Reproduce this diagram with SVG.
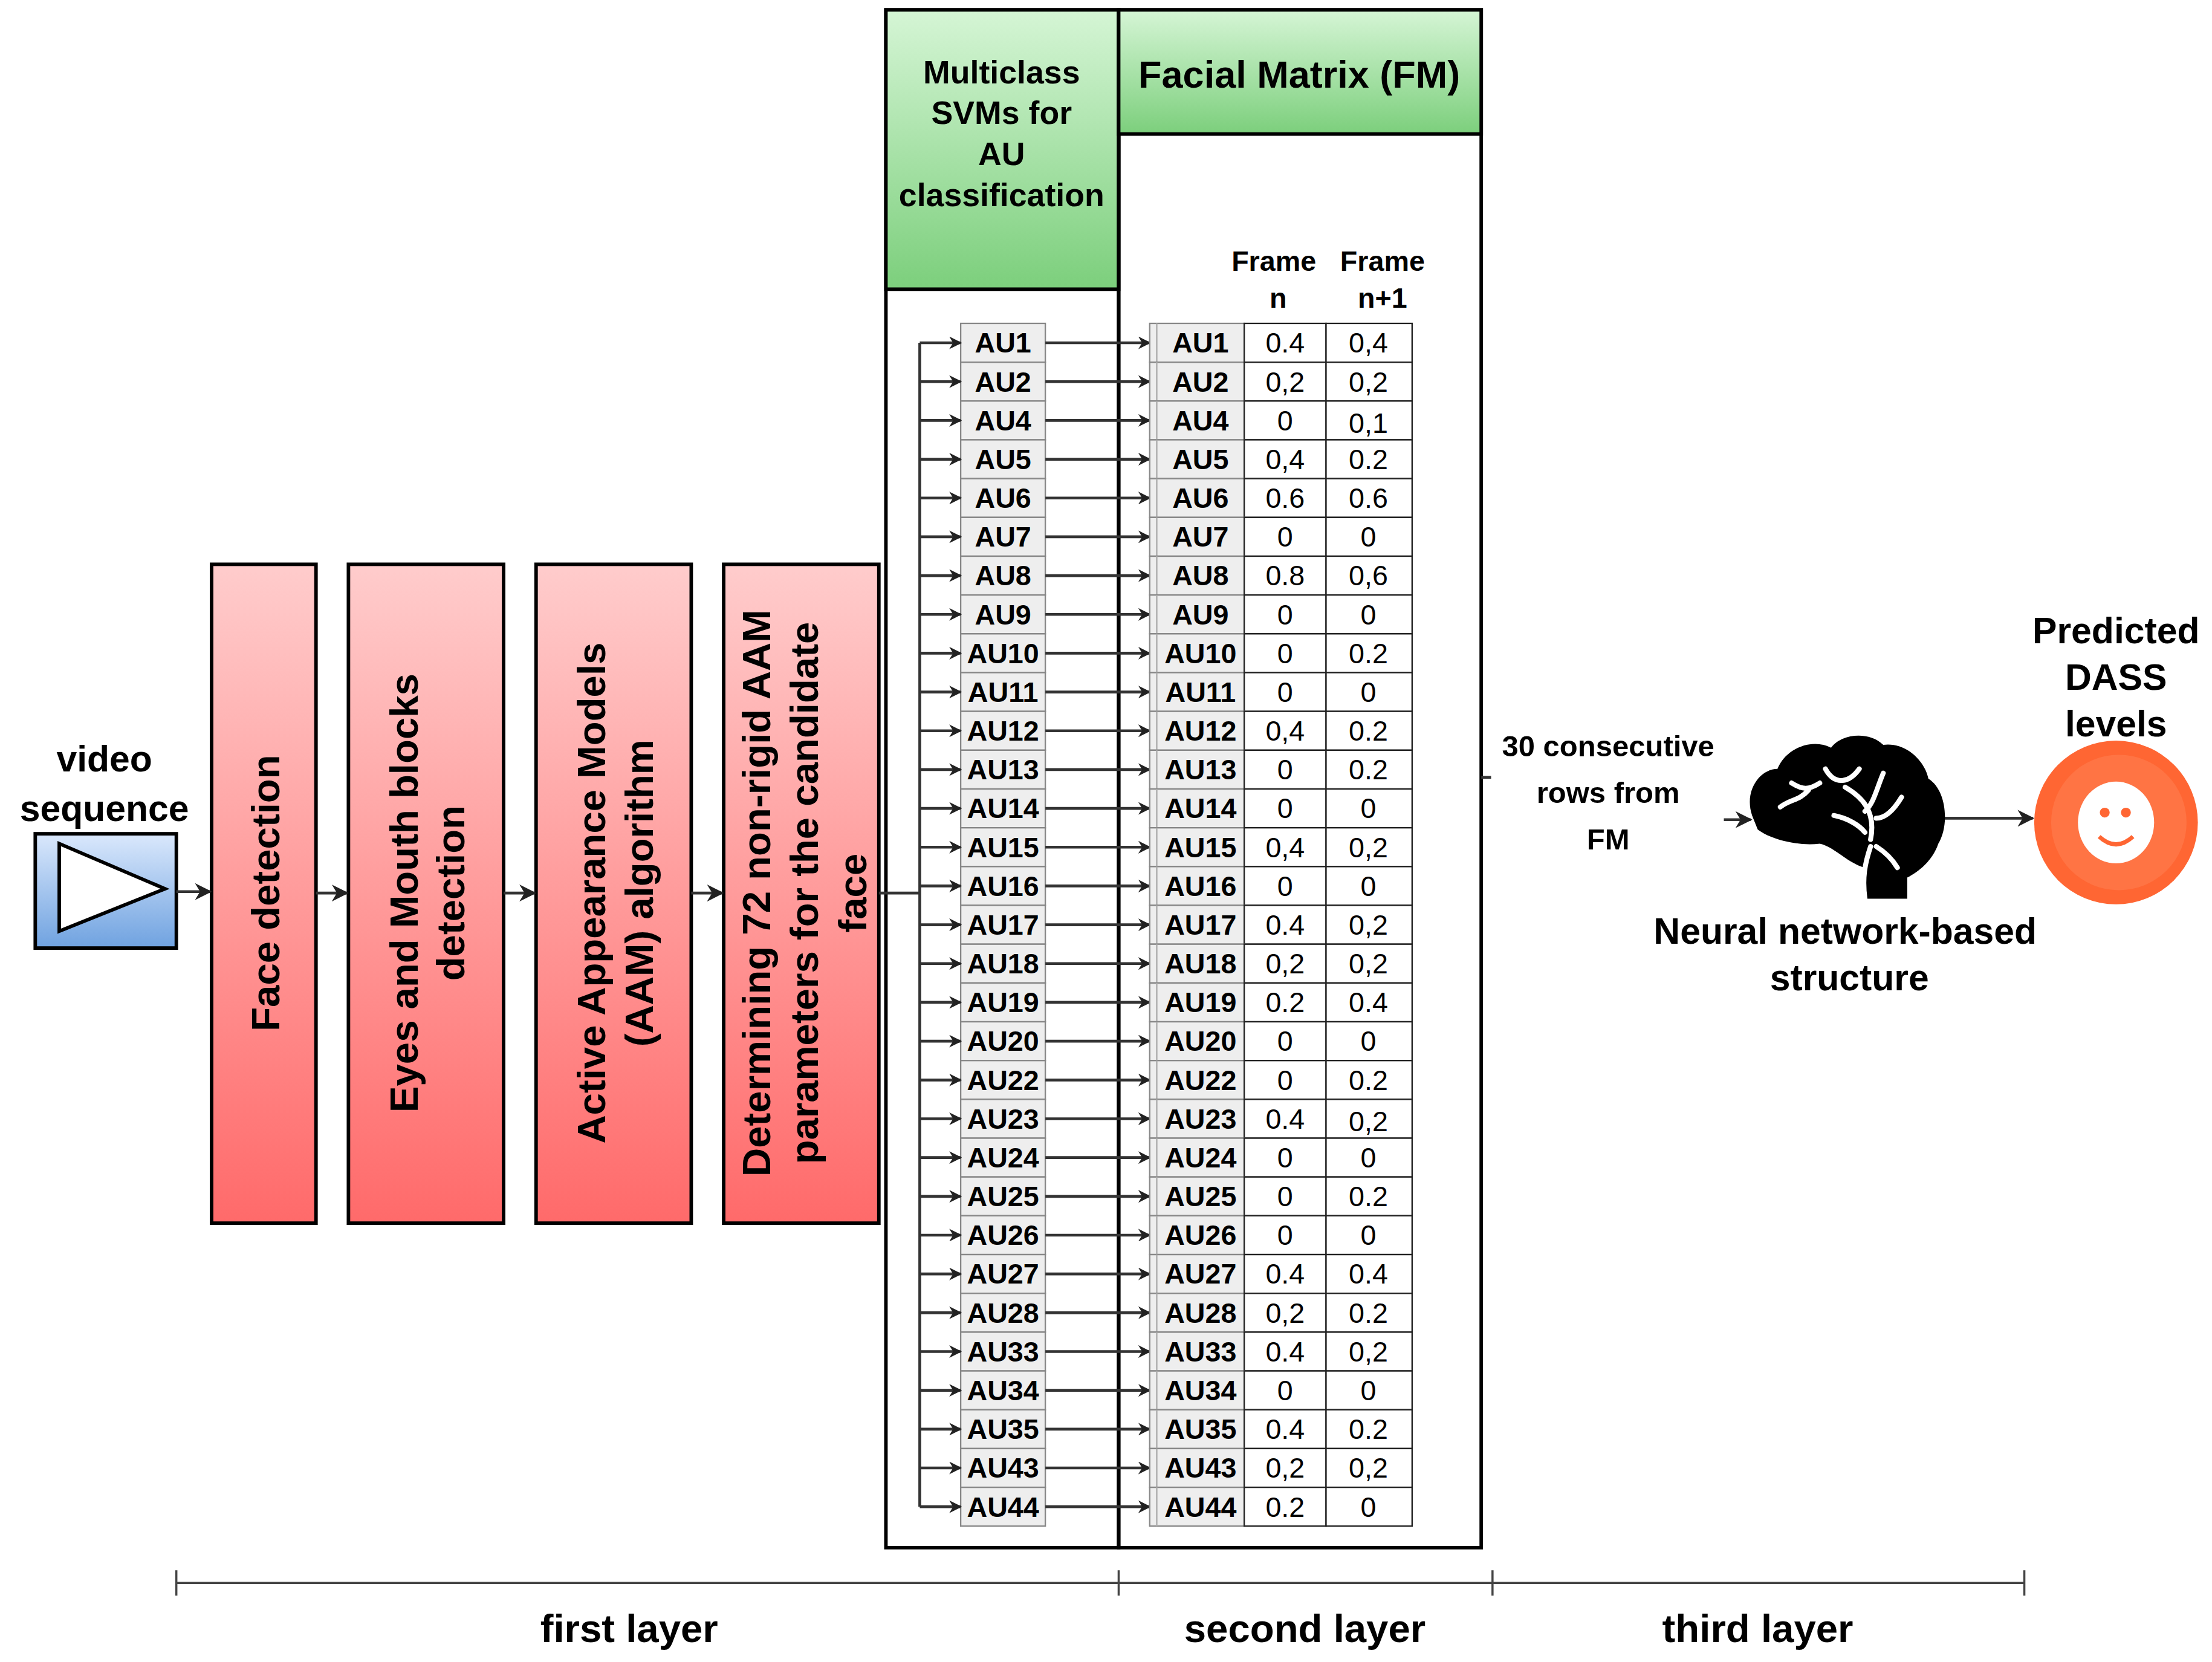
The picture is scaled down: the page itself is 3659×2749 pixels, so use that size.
<svg xmlns="http://www.w3.org/2000/svg" width="3659" height="2749" viewBox="0 0 3659 2749">
<defs>
<linearGradient id="red" x1="0" y1="0" x2="0" y2="1"><stop offset="0" stop-color="#ffcccc"/><stop offset="1" stop-color="#ff6a6a"/></linearGradient>
<linearGradient id="green" x1="0" y1="0" x2="0" y2="1"><stop offset="0" stop-color="#d5f5d5"/><stop offset="1" stop-color="#7ccf7c"/></linearGradient>
<linearGradient id="blue" x1="0" y1="0" x2="0" y2="1"><stop offset="0" stop-color="#dae8fc"/><stop offset="1" stop-color="#6fa2e0"/></linearGradient>
<marker id="ah" viewBox="0 0 10 10" refX="9" refY="5" markerWidth="9" markerHeight="9" orient="auto" markerUnits="userSpaceOnUse"><path d="M0,0 L10,5 L0,10 L3,5 z" fill="#222"/></marker>
<marker id="ahb" viewBox="0 0 10 10" refX="9" refY="5" markerWidth="12" markerHeight="12" orient="auto" markerUnits="userSpaceOnUse"><path d="M0,0 L10,5 L0,10 L3,5 z" fill="#222"/></marker>
</defs>
<style>
text{font-family:"Liberation Sans",Arial,sans-serif;fill:#000;text-anchor:middle}
.b{font-weight:bold}
.red{fill:url(#red);stroke:#000;stroke-width:2.5}
.rt{font-weight:bold;font-size:28px}
.au{fill:#eeeeee;stroke:#888;stroke-width:1}
.cell{fill:#fff;stroke:#222;stroke-width:1}
.ln{stroke:#333;stroke-width:2;fill:none}
.aul{font-size:20px;font-weight:bold}
.val{font-size:20px}
</style>
<rect width="3659" height="2749" fill="#fff"/>
<g transform="scale(2.3335)">
<g id="video">
<text class="b" x="74" y="547" font-size="26">video</text>
<text class="b" x="74" y="582" font-size="26">sequence</text>
<rect x="25" y="591" width="100" height="81" fill="url(#blue)" stroke="#000" stroke-width="2.5"/>
<polygon points="42,598 117,630 42,660" fill="#fff" stroke="#000" stroke-width="2.5"/>
</g>
<g id="face"><rect class="red" x="150" y="400" width="74" height="467"/>
<text class="rt" transform="translate(198,633) rotate(-90)">Face detection</text></g>
<g id="eyes"><rect class="red" x="247" y="400" width="110" height="467"/>
<text class="rt" transform="translate(296,633) rotate(-90)">Eyes and Mouth blocks</text>
<text class="rt" transform="translate(329,633) rotate(-90)">detection</text></g>
<g id="aam"><rect class="red" x="380" y="400" width="110" height="467"/>
<text class="rt" transform="translate(429,633) rotate(-90)">Active Appearance Models</text>
<text class="rt" transform="translate(463,633) rotate(-90)">(AAM) algorithm</text></g>
<g id="determ"><rect class="red" x="513" y="400" width="110" height="467"/>
<text class="rt" transform="translate(546,633) rotate(-90)">Determining 72 non-rigid AAM</text>
<text class="rt" transform="translate(580,633) rotate(-90)">parameters for the candidate</text>
<text class="rt" transform="translate(614,633) rotate(-90)">face</text></g>
<g id="svm">
<rect x="628" y="7" width="165" height="1090" fill="#fff" stroke="#000" stroke-width="2.5"/>
<rect x="628" y="7" width="165" height="198" fill="url(#green)" stroke="#000" stroke-width="2.5"/>
<text class="b" font-size="23" x="710" y="59">Multiclass</text>
<text class="b" font-size="23" x="710" y="88">SVMs for</text>
<text class="b" font-size="23" x="710" y="117">AU</text>
<text class="b" font-size="23" x="710" y="146">classification</text>
</g>
<g id="fm">
<rect x="793" y="7" width="257" height="1090" fill="none" stroke="#000" stroke-width="2.5"/>
<rect x="793" y="7" width="257" height="88" fill="url(#green)" stroke="#000" stroke-width="2.5"/>
<text class="b" font-size="27" x="921" y="62">Facial Matrix (FM)</text>
<text class="b" font-size="20" x="903" y="192">Frame</text>
<text class="b" font-size="20" x="980" y="192">Frame</text>
<text class="b" font-size="20" x="906" y="218">n</text>
<text class="b" font-size="20" x="980" y="218">n+1</text>
</g>
<g id="connectors">
<path class="ln" d="M125,632 H149" marker-end="url(#ahb)"/>
<path class="ln" d="M224,633 H246" marker-end="url(#ahb)"/>
<path class="ln" d="M357,633 H379" marker-end="url(#ahb)"/>
<path class="ln" d="M490,633 H512" marker-end="url(#ahb)"/>
<path class="ln" d="M623,633 H652"/>
<path class="ln" d="M652,243 V1068"/>
<path class="ln" d="M1050,551 H1057"/>
<path class="ln" d="M1222,581 H1241" marker-end="url(#ahb)"/>
<path class="ln" d="M1378,580 H1441" marker-end="url(#ahb)"/>
</g>
<g id="table">
<g class="row" transform="translate(0,243)"><rect class="au" x="681" y="-13.75" width="60" height="27.5"/><text class="aul" x="711" y="7">AU1</text><path class="ln" d="M652,0 H681" marker-end="url(#ah)"/><path class="ln" d="M741,0 H815" marker-end="url(#ah)"/><rect class="au" x="815" y="-13.75" width="67" height="27.5"/><path d="M820,-13.75 V13.75" stroke="#aaa"/><rect class="cell" x="882" y="-13.75" width="58" height="27.5"/><rect class="cell" x="940" y="-13.75" width="61" height="27.5"/><text class="aul" x="851" y="7">AU1</text><text class="val" x="911" y="7">0.4</text><text class="val" x="970" y="7">0,4</text></g>
<g class="row" transform="translate(0,270.5)"><rect class="au" x="681" y="-13.75" width="60" height="27.5"/><text class="aul" x="711" y="7">AU2</text><path class="ln" d="M652,0 H681" marker-end="url(#ah)"/><path class="ln" d="M741,0 H815" marker-end="url(#ah)"/><rect class="au" x="815" y="-13.75" width="67" height="27.5"/><path d="M820,-13.75 V13.75" stroke="#aaa"/><rect class="cell" x="882" y="-13.75" width="58" height="27.5"/><rect class="cell" x="940" y="-13.75" width="61" height="27.5"/><text class="aul" x="851" y="7">AU2</text><text class="val" x="911" y="7">0,2</text><text class="val" x="970" y="7">0,2</text></g>
<g class="row" transform="translate(0,298)"><rect class="au" x="681" y="-13.75" width="60" height="27.5"/><text class="aul" x="711" y="7">AU4</text><path class="ln" d="M652,0 H681" marker-end="url(#ah)"/><path class="ln" d="M741,0 H815" marker-end="url(#ah)"/><rect class="au" x="815" y="-13.75" width="67" height="27.5"/><path d="M820,-13.75 V13.75" stroke="#aaa"/><rect class="cell" x="882" y="-13.75" width="58" height="27.5"/><rect class="cell" x="940" y="-13.75" width="61" height="27.5"/><text class="aul" x="851" y="7">AU4</text><text class="val" x="911" y="7">0</text><text class="val" x="970" y="9">0,1</text></g>
<g class="row" transform="translate(0,325.5)"><rect class="au" x="681" y="-13.75" width="60" height="27.5"/><text class="aul" x="711" y="7">AU5</text><path class="ln" d="M652,0 H681" marker-end="url(#ah)"/><path class="ln" d="M741,0 H815" marker-end="url(#ah)"/><rect class="au" x="815" y="-13.75" width="67" height="27.5"/><path d="M820,-13.75 V13.75" stroke="#aaa"/><rect class="cell" x="882" y="-13.75" width="58" height="27.5"/><rect class="cell" x="940" y="-13.75" width="61" height="27.5"/><text class="aul" x="851" y="7">AU5</text><text class="val" x="911" y="7">0,4</text><text class="val" x="970" y="7">0.2</text></g>
<g class="row" transform="translate(0,353)"><rect class="au" x="681" y="-13.75" width="60" height="27.5"/><text class="aul" x="711" y="7">AU6</text><path class="ln" d="M652,0 H681" marker-end="url(#ah)"/><path class="ln" d="M741,0 H815" marker-end="url(#ah)"/><rect class="au" x="815" y="-13.75" width="67" height="27.5"/><path d="M820,-13.75 V13.75" stroke="#aaa"/><rect class="cell" x="882" y="-13.75" width="58" height="27.5"/><rect class="cell" x="940" y="-13.75" width="61" height="27.5"/><text class="aul" x="851" y="7">AU6</text><text class="val" x="911" y="7">0.6</text><text class="val" x="970" y="7">0.6</text></g>
<g class="row" transform="translate(0,380.5)"><rect class="au" x="681" y="-13.75" width="60" height="27.5"/><text class="aul" x="711" y="7">AU7</text><path class="ln" d="M652,0 H681" marker-end="url(#ah)"/><path class="ln" d="M741,0 H815" marker-end="url(#ah)"/><rect class="au" x="815" y="-13.75" width="67" height="27.5"/><path d="M820,-13.75 V13.75" stroke="#aaa"/><rect class="cell" x="882" y="-13.75" width="58" height="27.5"/><rect class="cell" x="940" y="-13.75" width="61" height="27.5"/><text class="aul" x="851" y="7">AU7</text><text class="val" x="911" y="7">0</text><text class="val" x="970" y="7">0</text></g>
<g class="row" transform="translate(0,408)"><rect class="au" x="681" y="-13.75" width="60" height="27.5"/><text class="aul" x="711" y="7">AU8</text><path class="ln" d="M652,0 H681" marker-end="url(#ah)"/><path class="ln" d="M741,0 H815" marker-end="url(#ah)"/><rect class="au" x="815" y="-13.75" width="67" height="27.5"/><path d="M820,-13.75 V13.75" stroke="#aaa"/><rect class="cell" x="882" y="-13.75" width="58" height="27.5"/><rect class="cell" x="940" y="-13.75" width="61" height="27.5"/><text class="aul" x="851" y="7">AU8</text><text class="val" x="911" y="7">0.8</text><text class="val" x="970" y="7">0,6</text></g>
<g class="row" transform="translate(0,435.5)"><rect class="au" x="681" y="-13.75" width="60" height="27.5"/><text class="aul" x="711" y="7">AU9</text><path class="ln" d="M652,0 H681" marker-end="url(#ah)"/><path class="ln" d="M741,0 H815" marker-end="url(#ah)"/><rect class="au" x="815" y="-13.75" width="67" height="27.5"/><path d="M820,-13.75 V13.75" stroke="#aaa"/><rect class="cell" x="882" y="-13.75" width="58" height="27.5"/><rect class="cell" x="940" y="-13.75" width="61" height="27.5"/><text class="aul" x="851" y="7">AU9</text><text class="val" x="911" y="7">0</text><text class="val" x="970" y="7">0</text></g>
<g class="row" transform="translate(0,463)"><rect class="au" x="681" y="-13.75" width="60" height="27.5"/><text class="aul" x="711" y="7">AU10</text><path class="ln" d="M652,0 H681" marker-end="url(#ah)"/><path class="ln" d="M741,0 H815" marker-end="url(#ah)"/><rect class="au" x="815" y="-13.75" width="67" height="27.5"/><path d="M820,-13.75 V13.75" stroke="#aaa"/><rect class="cell" x="882" y="-13.75" width="58" height="27.5"/><rect class="cell" x="940" y="-13.75" width="61" height="27.5"/><text class="aul" x="851" y="7">AU10</text><text class="val" x="911" y="7">0</text><text class="val" x="970" y="7">0.2</text></g>
<g class="row" transform="translate(0,490.5)"><rect class="au" x="681" y="-13.75" width="60" height="27.5"/><text class="aul" x="711" y="7">AU11</text><path class="ln" d="M652,0 H681" marker-end="url(#ah)"/><path class="ln" d="M741,0 H815" marker-end="url(#ah)"/><rect class="au" x="815" y="-13.75" width="67" height="27.5"/><path d="M820,-13.75 V13.75" stroke="#aaa"/><rect class="cell" x="882" y="-13.75" width="58" height="27.5"/><rect class="cell" x="940" y="-13.75" width="61" height="27.5"/><text class="aul" x="851" y="7">AU11</text><text class="val" x="911" y="7">0</text><text class="val" x="970" y="7">0</text></g>
<g class="row" transform="translate(0,518)"><rect class="au" x="681" y="-13.75" width="60" height="27.5"/><text class="aul" x="711" y="7">AU12</text><path class="ln" d="M652,0 H681" marker-end="url(#ah)"/><path class="ln" d="M741,0 H815" marker-end="url(#ah)"/><rect class="au" x="815" y="-13.75" width="67" height="27.5"/><path d="M820,-13.75 V13.75" stroke="#aaa"/><rect class="cell" x="882" y="-13.75" width="58" height="27.5"/><rect class="cell" x="940" y="-13.75" width="61" height="27.5"/><text class="aul" x="851" y="7">AU12</text><text class="val" x="911" y="7">0,4</text><text class="val" x="970" y="7">0.2</text></g>
<g class="row" transform="translate(0,545.5)"><rect class="au" x="681" y="-13.75" width="60" height="27.5"/><text class="aul" x="711" y="7">AU13</text><path class="ln" d="M652,0 H681" marker-end="url(#ah)"/><path class="ln" d="M741,0 H815" marker-end="url(#ah)"/><rect class="au" x="815" y="-13.75" width="67" height="27.5"/><path d="M820,-13.75 V13.75" stroke="#aaa"/><rect class="cell" x="882" y="-13.75" width="58" height="27.5"/><rect class="cell" x="940" y="-13.75" width="61" height="27.5"/><text class="aul" x="851" y="7">AU13</text><text class="val" x="911" y="7">0</text><text class="val" x="970" y="7">0.2</text></g>
<g class="row" transform="translate(0,573)"><rect class="au" x="681" y="-13.75" width="60" height="27.5"/><text class="aul" x="711" y="7">AU14</text><path class="ln" d="M652,0 H681" marker-end="url(#ah)"/><path class="ln" d="M741,0 H815" marker-end="url(#ah)"/><rect class="au" x="815" y="-13.75" width="67" height="27.5"/><path d="M820,-13.75 V13.75" stroke="#aaa"/><rect class="cell" x="882" y="-13.75" width="58" height="27.5"/><rect class="cell" x="940" y="-13.75" width="61" height="27.5"/><text class="aul" x="851" y="7">AU14</text><text class="val" x="911" y="7">0</text><text class="val" x="970" y="7">0</text></g>
<g class="row" transform="translate(0,600.5)"><rect class="au" x="681" y="-13.75" width="60" height="27.5"/><text class="aul" x="711" y="7">AU15</text><path class="ln" d="M652,0 H681" marker-end="url(#ah)"/><path class="ln" d="M741,0 H815" marker-end="url(#ah)"/><rect class="au" x="815" y="-13.75" width="67" height="27.5"/><path d="M820,-13.75 V13.75" stroke="#aaa"/><rect class="cell" x="882" y="-13.75" width="58" height="27.5"/><rect class="cell" x="940" y="-13.75" width="61" height="27.5"/><text class="aul" x="851" y="7">AU15</text><text class="val" x="911" y="7">0,4</text><text class="val" x="970" y="7">0,2</text></g>
<g class="row" transform="translate(0,628)"><rect class="au" x="681" y="-13.75" width="60" height="27.5"/><text class="aul" x="711" y="7">AU16</text><path class="ln" d="M652,0 H681" marker-end="url(#ah)"/><path class="ln" d="M741,0 H815" marker-end="url(#ah)"/><rect class="au" x="815" y="-13.75" width="67" height="27.5"/><path d="M820,-13.75 V13.75" stroke="#aaa"/><rect class="cell" x="882" y="-13.75" width="58" height="27.5"/><rect class="cell" x="940" y="-13.75" width="61" height="27.5"/><text class="aul" x="851" y="7">AU16</text><text class="val" x="911" y="7">0</text><text class="val" x="970" y="7">0</text></g>
<g class="row" transform="translate(0,655.5)"><rect class="au" x="681" y="-13.75" width="60" height="27.5"/><text class="aul" x="711" y="7">AU17</text><path class="ln" d="M652,0 H681" marker-end="url(#ah)"/><path class="ln" d="M741,0 H815" marker-end="url(#ah)"/><rect class="au" x="815" y="-13.75" width="67" height="27.5"/><path d="M820,-13.75 V13.75" stroke="#aaa"/><rect class="cell" x="882" y="-13.75" width="58" height="27.5"/><rect class="cell" x="940" y="-13.75" width="61" height="27.5"/><text class="aul" x="851" y="7">AU17</text><text class="val" x="911" y="7">0.4</text><text class="val" x="970" y="7">0,2</text></g>
<g class="row" transform="translate(0,683)"><rect class="au" x="681" y="-13.75" width="60" height="27.5"/><text class="aul" x="711" y="7">AU18</text><path class="ln" d="M652,0 H681" marker-end="url(#ah)"/><path class="ln" d="M741,0 H815" marker-end="url(#ah)"/><rect class="au" x="815" y="-13.75" width="67" height="27.5"/><path d="M820,-13.75 V13.75" stroke="#aaa"/><rect class="cell" x="882" y="-13.75" width="58" height="27.5"/><rect class="cell" x="940" y="-13.75" width="61" height="27.5"/><text class="aul" x="851" y="7">AU18</text><text class="val" x="911" y="7">0,2</text><text class="val" x="970" y="7">0,2</text></g>
<g class="row" transform="translate(0,710.5)"><rect class="au" x="681" y="-13.75" width="60" height="27.5"/><text class="aul" x="711" y="7">AU19</text><path class="ln" d="M652,0 H681" marker-end="url(#ah)"/><path class="ln" d="M741,0 H815" marker-end="url(#ah)"/><rect class="au" x="815" y="-13.75" width="67" height="27.5"/><path d="M820,-13.75 V13.75" stroke="#aaa"/><rect class="cell" x="882" y="-13.75" width="58" height="27.5"/><rect class="cell" x="940" y="-13.75" width="61" height="27.5"/><text class="aul" x="851" y="7">AU19</text><text class="val" x="911" y="7">0.2</text><text class="val" x="970" y="7">0.4</text></g>
<g class="row" transform="translate(0,738)"><rect class="au" x="681" y="-13.75" width="60" height="27.5"/><text class="aul" x="711" y="7">AU20</text><path class="ln" d="M652,0 H681" marker-end="url(#ah)"/><path class="ln" d="M741,0 H815" marker-end="url(#ah)"/><rect class="au" x="815" y="-13.75" width="67" height="27.5"/><path d="M820,-13.75 V13.75" stroke="#aaa"/><rect class="cell" x="882" y="-13.75" width="58" height="27.5"/><rect class="cell" x="940" y="-13.75" width="61" height="27.5"/><text class="aul" x="851" y="7">AU20</text><text class="val" x="911" y="7">0</text><text class="val" x="970" y="7">0</text></g>
<g class="row" transform="translate(0,765.5)"><rect class="au" x="681" y="-13.75" width="60" height="27.5"/><text class="aul" x="711" y="7">AU22</text><path class="ln" d="M652,0 H681" marker-end="url(#ah)"/><path class="ln" d="M741,0 H815" marker-end="url(#ah)"/><rect class="au" x="815" y="-13.75" width="67" height="27.5"/><path d="M820,-13.75 V13.75" stroke="#aaa"/><rect class="cell" x="882" y="-13.75" width="58" height="27.5"/><rect class="cell" x="940" y="-13.75" width="61" height="27.5"/><text class="aul" x="851" y="7">AU22</text><text class="val" x="911" y="7">0</text><text class="val" x="970" y="7">0.2</text></g>
<g class="row" transform="translate(0,793)"><rect class="au" x="681" y="-13.75" width="60" height="27.5"/><text class="aul" x="711" y="7">AU23</text><path class="ln" d="M652,0 H681" marker-end="url(#ah)"/><path class="ln" d="M741,0 H815" marker-end="url(#ah)"/><rect class="au" x="815" y="-13.75" width="67" height="27.5"/><path d="M820,-13.75 V13.75" stroke="#aaa"/><rect class="cell" x="882" y="-13.75" width="58" height="27.5"/><rect class="cell" x="940" y="-13.75" width="61" height="27.5"/><text class="aul" x="851" y="7">AU23</text><text class="val" x="911" y="7">0.4</text><text class="val" x="970" y="9">0,2</text></g>
<g class="row" transform="translate(0,820.5)"><rect class="au" x="681" y="-13.75" width="60" height="27.5"/><text class="aul" x="711" y="7">AU24</text><path class="ln" d="M652,0 H681" marker-end="url(#ah)"/><path class="ln" d="M741,0 H815" marker-end="url(#ah)"/><rect class="au" x="815" y="-13.75" width="67" height="27.5"/><path d="M820,-13.75 V13.75" stroke="#aaa"/><rect class="cell" x="882" y="-13.75" width="58" height="27.5"/><rect class="cell" x="940" y="-13.75" width="61" height="27.5"/><text class="aul" x="851" y="7">AU24</text><text class="val" x="911" y="7">0</text><text class="val" x="970" y="7">0</text></g>
<g class="row" transform="translate(0,848)"><rect class="au" x="681" y="-13.75" width="60" height="27.5"/><text class="aul" x="711" y="7">AU25</text><path class="ln" d="M652,0 H681" marker-end="url(#ah)"/><path class="ln" d="M741,0 H815" marker-end="url(#ah)"/><rect class="au" x="815" y="-13.75" width="67" height="27.5"/><path d="M820,-13.75 V13.75" stroke="#aaa"/><rect class="cell" x="882" y="-13.75" width="58" height="27.5"/><rect class="cell" x="940" y="-13.75" width="61" height="27.5"/><text class="aul" x="851" y="7">AU25</text><text class="val" x="911" y="7">0</text><text class="val" x="970" y="7">0.2</text></g>
<g class="row" transform="translate(0,875.5)"><rect class="au" x="681" y="-13.75" width="60" height="27.5"/><text class="aul" x="711" y="7">AU26</text><path class="ln" d="M652,0 H681" marker-end="url(#ah)"/><path class="ln" d="M741,0 H815" marker-end="url(#ah)"/><rect class="au" x="815" y="-13.75" width="67" height="27.5"/><path d="M820,-13.75 V13.75" stroke="#aaa"/><rect class="cell" x="882" y="-13.75" width="58" height="27.5"/><rect class="cell" x="940" y="-13.75" width="61" height="27.5"/><text class="aul" x="851" y="7">AU26</text><text class="val" x="911" y="7">0</text><text class="val" x="970" y="7">0</text></g>
<g class="row" transform="translate(0,903)"><rect class="au" x="681" y="-13.75" width="60" height="27.5"/><text class="aul" x="711" y="7">AU27</text><path class="ln" d="M652,0 H681" marker-end="url(#ah)"/><path class="ln" d="M741,0 H815" marker-end="url(#ah)"/><rect class="au" x="815" y="-13.75" width="67" height="27.5"/><path d="M820,-13.75 V13.75" stroke="#aaa"/><rect class="cell" x="882" y="-13.75" width="58" height="27.5"/><rect class="cell" x="940" y="-13.75" width="61" height="27.5"/><text class="aul" x="851" y="7">AU27</text><text class="val" x="911" y="7">0.4</text><text class="val" x="970" y="7">0.4</text></g>
<g class="row" transform="translate(0,930.5)"><rect class="au" x="681" y="-13.75" width="60" height="27.5"/><text class="aul" x="711" y="7">AU28</text><path class="ln" d="M652,0 H681" marker-end="url(#ah)"/><path class="ln" d="M741,0 H815" marker-end="url(#ah)"/><rect class="au" x="815" y="-13.75" width="67" height="27.5"/><path d="M820,-13.75 V13.75" stroke="#aaa"/><rect class="cell" x="882" y="-13.75" width="58" height="27.5"/><rect class="cell" x="940" y="-13.75" width="61" height="27.5"/><text class="aul" x="851" y="7">AU28</text><text class="val" x="911" y="7">0,2</text><text class="val" x="970" y="7">0.2</text></g>
<g class="row" transform="translate(0,958)"><rect class="au" x="681" y="-13.75" width="60" height="27.5"/><text class="aul" x="711" y="7">AU33</text><path class="ln" d="M652,0 H681" marker-end="url(#ah)"/><path class="ln" d="M741,0 H815" marker-end="url(#ah)"/><rect class="au" x="815" y="-13.75" width="67" height="27.5"/><path d="M820,-13.75 V13.75" stroke="#aaa"/><rect class="cell" x="882" y="-13.75" width="58" height="27.5"/><rect class="cell" x="940" y="-13.75" width="61" height="27.5"/><text class="aul" x="851" y="7">AU33</text><text class="val" x="911" y="7">0.4</text><text class="val" x="970" y="7">0,2</text></g>
<g class="row" transform="translate(0,985.5)"><rect class="au" x="681" y="-13.75" width="60" height="27.5"/><text class="aul" x="711" y="7">AU34</text><path class="ln" d="M652,0 H681" marker-end="url(#ah)"/><path class="ln" d="M741,0 H815" marker-end="url(#ah)"/><rect class="au" x="815" y="-13.75" width="67" height="27.5"/><path d="M820,-13.75 V13.75" stroke="#aaa"/><rect class="cell" x="882" y="-13.75" width="58" height="27.5"/><rect class="cell" x="940" y="-13.75" width="61" height="27.5"/><text class="aul" x="851" y="7">AU34</text><text class="val" x="911" y="7">0</text><text class="val" x="970" y="7">0</text></g>
<g class="row" transform="translate(0,1013)"><rect class="au" x="681" y="-13.75" width="60" height="27.5"/><text class="aul" x="711" y="7">AU35</text><path class="ln" d="M652,0 H681" marker-end="url(#ah)"/><path class="ln" d="M741,0 H815" marker-end="url(#ah)"/><rect class="au" x="815" y="-13.75" width="67" height="27.5"/><path d="M820,-13.75 V13.75" stroke="#aaa"/><rect class="cell" x="882" y="-13.75" width="58" height="27.5"/><rect class="cell" x="940" y="-13.75" width="61" height="27.5"/><text class="aul" x="851" y="7">AU35</text><text class="val" x="911" y="7">0.4</text><text class="val" x="970" y="7">0.2</text></g>
<g class="row" transform="translate(0,1040.5)"><rect class="au" x="681" y="-13.75" width="60" height="27.5"/><text class="aul" x="711" y="7">AU43</text><path class="ln" d="M652,0 H681" marker-end="url(#ah)"/><path class="ln" d="M741,0 H815" marker-end="url(#ah)"/><rect class="au" x="815" y="-13.75" width="67" height="27.5"/><path d="M820,-13.75 V13.75" stroke="#aaa"/><rect class="cell" x="882" y="-13.75" width="58" height="27.5"/><rect class="cell" x="940" y="-13.75" width="61" height="27.5"/><text class="aul" x="851" y="7">AU43</text><text class="val" x="911" y="7">0,2</text><text class="val" x="970" y="7">0,2</text></g>
<g class="row" transform="translate(0,1068)"><rect class="au" x="681" y="-13.75" width="60" height="27.5"/><text class="aul" x="711" y="7">AU44</text><path class="ln" d="M652,0 H681" marker-end="url(#ah)"/><path class="ln" d="M741,0 H815" marker-end="url(#ah)"/><rect class="au" x="815" y="-13.75" width="67" height="27.5"/><path d="M820,-13.75 V13.75" stroke="#aaa"/><rect class="cell" x="882" y="-13.75" width="58" height="27.5"/><rect class="cell" x="940" y="-13.75" width="61" height="27.5"/><text class="aul" x="851" y="7">AU44</text><text class="val" x="911" y="7">0.2</text><text class="val" x="970" y="7">0</text></g>
</g>
<g id="input-label">
<text class="b" font-size="21" x="1140" y="536">30 consecutive</text>
<text class="b" font-size="21" x="1140" y="569">rows from</text>
<text class="b" font-size="21" x="1140" y="602">FM</text>
</g>
<g id="brain">
<path d="M1242,578 C1236,560 1248,545 1260,545 C1266,530 1285,523 1298,530 C1305,520 1325,518 1335,528 C1350,526 1364,538 1367,552 C1380,560 1382,585 1374,598 C1370,610 1360,618 1352,622 L1352,637 L1322,637 L1322,615 C1310,612 1300,600 1290,598 C1275,600 1255,595 1246,588 Z" fill="#000"/>
<path d="M1262,572 C1270,566 1275,568 1282,560 M1270,555 C1278,560 1282,560 1290,555 M1294,545 C1300,556 1310,556 1318,545 M1308,558 C1320,565 1330,575 1326,595 M1335,548 C1330,560 1328,570 1322,575 M1348,565 C1342,575 1336,580 1330,580 M1300,578 C1310,580 1318,585 1322,590 M1326,600 C1322,612 1320,622 1322,637 M1330,600 C1338,605 1342,610 1345,615" stroke="#fff" stroke-width="3.5" fill="none" stroke-linecap="round"/>
<text class="b" font-size="26" x="1308" y="669">Neural network-based</text>
<text class="b" font-size="26" x="1311" y="702">structure</text>
</g>
<g id="output">
<text class="b" font-size="26" x="1500" y="456">Predicted</text>
<text class="b" font-size="26" x="1500" y="489">DASS</text>
<text class="b" font-size="26" x="1500" y="522">levels</text>
<circle cx="1500" cy="583" r="58" fill="#ff6633"/>
<circle cx="1502" cy="583" r="48" fill="#ff7444"/>
<ellipse cx="1500" cy="583" rx="27" ry="29" fill="#fff"/>
<circle cx="1492" cy="576" r="3.5" fill="#ff6633"/>
<circle cx="1507" cy="576" r="3.5" fill="#ff6633"/>
<path d="M1488,593 Q1500,604 1512,593" stroke="#ff6633" stroke-width="3" fill="none"/>
</g>
<g id="axis">
<path d="M125,1122 H1435 M125,1113 V1131 M793,1113 V1131 M1058,1113 V1131 M1435,1113 V1131" stroke="#444" stroke-width="1.5" fill="none"/>
<text class="b" font-size="28" x="446" y="1164">first layer</text>
<text class="b" font-size="28" x="925" y="1164">second layer</text>
<text class="b" font-size="28" x="1246" y="1164">third layer</text>
</g>
</g>
</svg>
